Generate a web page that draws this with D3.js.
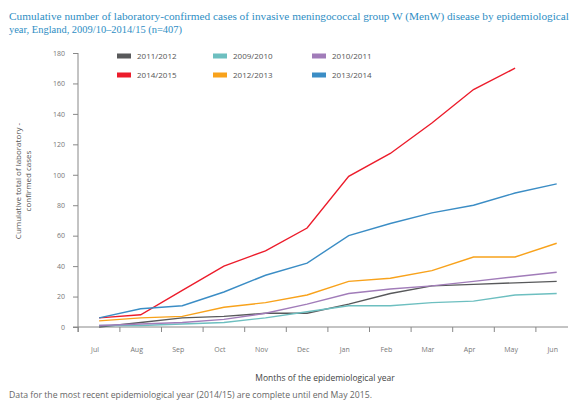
<!DOCTYPE html>
<html>
<head>
<meta charset="utf-8">
<script src="https://cdn.jsdelivr.net/npm/d3@7"></script>
<style>
  body { margin: 0; background: #fff; }
  svg { display: block; }
  .tick text { font-family: "Open Sans", sans-serif; fill: #777; }
</style>
</head>
<body>
<div id="chart"></div>
<script>
// months of the epidemiological year (Jul - Jun)
var months = ["Jul", "Aug", "Sep", "Oct", "Nov", "Dec", "Jan", "Feb", "Mar", "Apr", "May", "Jun"];
var yTicks = [0, 20, 40, 60, 80, 100, 120, 140, 160, 180];

// cumulative cases per season
var s2011 = [0, 3, 6, 7, 9, 9, 15, 22, 27, 28, 29, 30];
var s2009 = [1, 1, 2, 3, 6, 10, 14, 14, 16, 17, 21, 22];
var s2010 = [1, 2, 3, 5, 9, 15, 22, 25, 27, 30, 33, 36];
var s2014 = [6, 8, 24, 40, 50, 65, 99, 114, 134, 156, 170];
var s2012 = [4, 6, 7, 13, 16, 21, 30, 32, 37, 46, 46, 55];
var s2013 = [6, 12, 14, 23, 34, 42, 60, 68, 75, 80, 88, 94];

var seriesNames = ["2011/2012", "2009/2010", "2010/2011", "2014/2015", "2012/2013", "2013/2014"];
var seriesValues = [s2011, s2009, s2010, s2014, s2012, s2013];
var seriesColors = ["#58595b", "#6dbfc0", "#a17cb9", "#ec1c2b", "#f8a21b", "#3b8dc5"];

var width = 574, height = 401;
var svg = d3.select("#chart").append("svg")
  .attr("width", width)
  .attr("height", height);

// title
var title = svg.append("text")
  .attr("font-family", "Liberation Serif, serif")
  .attr("font-size", 11.1)
  .attr("fill", "#2e8ec4");
title.append("tspan").attr("x", 9).attr("y", 20)
  .attr("textLength", 560)
  .attr("lengthAdjust", "spacingAndGlyphs")
  .text("Cumulative number of laboratory-confirmed cases of invasive meningococcal group W (MenW) disease by epidemiological");
title.append("tspan").attr("x", 9).attr("y", 33)
  .attr("textLength", 173)
  .attr("lengthAdjust", "spacingAndGlyphs")
  .text("year, England, 2009/10\u20132014/15 (n=407)");

// scales
var x = d3.scaleBand().domain(months).range([78.3, 577.5]);
var y = d3.scaleLinear().domain([0, 180]).range([327, 53]);

// y axis
var yAxis = svg.append("g")
  .attr("transform", "translate(78,0)")
  .call(d3.axisLeft(y).tickValues(yTicks).tickSize(5).tickPadding(8));
yAxis.select(".domain").attr("stroke", "#888").attr("d", "M0," + y(180) + "V" + (y(0) + 5));
yAxis.selectAll(".tick line").attr("stroke", "#888");
yAxis.selectAll(".tick text").attr("font-size", 7);

// x axis, ticks at band edges
var xAxis = svg.append("g")
  .attr("transform", "translate(0," + y(0) + ")");
xAxis.append("line")
  .attr("x1", 73).attr("x2", 568)
  .attr("stroke", "#888");
xAxis.selectAll(".xt")
  .data(months)
  .enter().append("line")
  .attr("x1", function(d) { return x(d); })
  .attr("x2", function(d) { return x(d); })
  .attr("y1", 0).attr("y2", 5)
  .attr("stroke", "#888");
xAxis.selectAll(".xl")
  .data(months)
  .enter().append("text")
  .attr("x", function(d) { return x(d) + x.bandwidth() / 2 - 4; })
  .attr("y", 25)
  .attr("text-anchor", "middle")
  .attr("font-family", "Open Sans, sans-serif")
  .attr("font-size", 7)
  .attr("fill", "#777")
  .text(function(d) { return d; });

// axis titles
svg.append("text")
  .attr("transform", "translate(21,181) rotate(-90)")
  .attr("text-anchor", "middle")
  .attr("font-family", "Open Sans, sans-serif")
  .attr("font-size", 8)
  .attr("fill", "#555")
  .selectAll("tspan")
  .data(["Cumulative total of laboratory -", "confirmed cases"])
  .enter().append("tspan")
  .attr("x", 0)
  .attr("dy", function(d, i) { return i == 0 ? 0 : 10; })
  .text(function(d) { return d; });

svg.append("text")
  .attr("x", 325).attr("y", 381)
  .attr("text-anchor", "middle")
  .attr("font-family", "Open Sans, sans-serif")
  .attr("font-size", 8.5)
  .attr("fill", "#444")
  .text("Months of the epidemiological year");

svg.append("text")
  .attr("x", 9).attr("y", 398)
  .attr("font-family", "Open Sans, sans-serif")
  .attr("font-size", 8.7)
  .attr("fill", "#666")
  .text("Data for the most recent epidemiological year (2014/15) are complete until end May 2015.");

// lines
var line = d3.line()
  .x(function(d, i) { return x(months[i]) + x.bandwidth() / 2; })
  .y(function(d) { return y(d); });

svg.selectAll(".series")
  .data(seriesValues)
  .enter().append("path")
  .attr("class", "series")
  .attr("fill", "none")
  .attr("stroke-width", 1.4)
  .attr("stroke", function(d, i) { return seriesColors[i]; })
  .attr("d", line);

// legend, 3 columns x 2 rows
var legendX = [117, 213, 312];
var legendY = [56, 75];
var legend = svg.selectAll(".legend")
  .data(seriesNames)
  .enter().append("g")
  .attr("transform", function(d, i) {
    return "translate(" + legendX[i % 3] + "," + legendY[Math.floor(i / 3)] + ")";
  });
legend.append("rect")
  .attr("x", 0).attr("y", -2.5)
  .attr("width", 14).attr("height", 5)
  .attr("fill", function(d, i) { return seriesColors[i]; });
legend.append("text")
  .attr("x", 20).attr("y", 3)
  .attr("font-family", "Open Sans, sans-serif")
  .attr("font-size", 8)
  .attr("fill", "#555")
  .text(function(d) { return d; });
</script>
</body>
</html>
